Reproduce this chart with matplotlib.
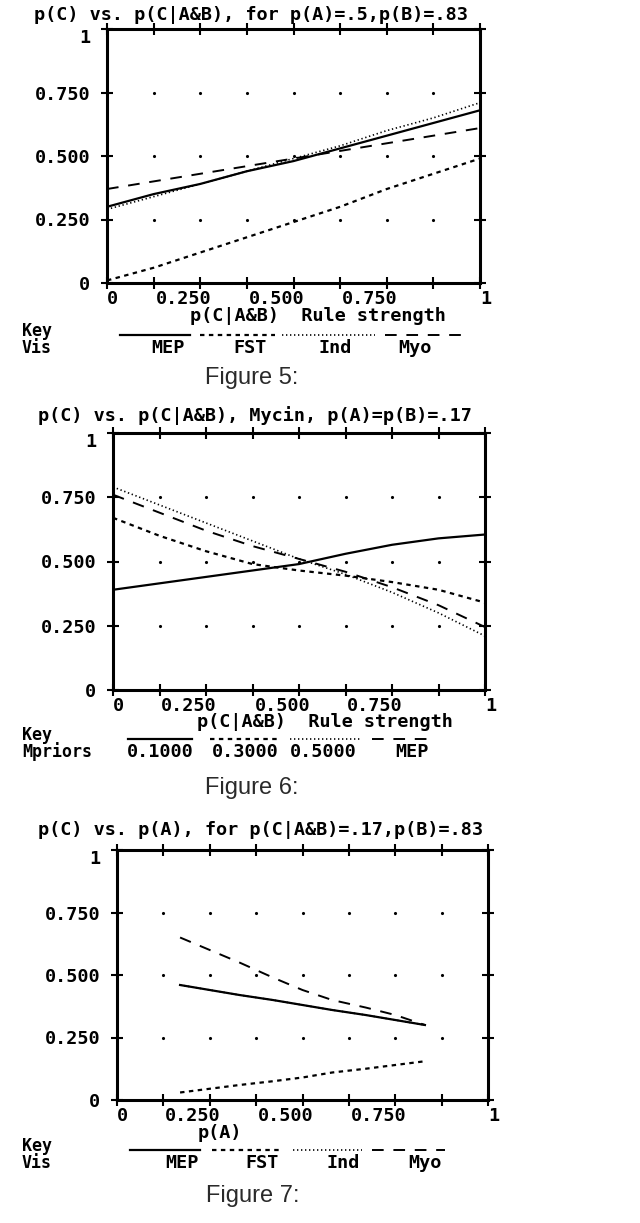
"""Three scanned-style line charts: p(C) against rule strength / p(A)."""
import matplotlib
matplotlib.use("Agg")
import matplotlib.pyplot as plt
import matplotlib.transforms as mtransforms
import numpy as np

##########################
## Data

# Figure 5: p(C) vs. p(C|A&B), p(A)=.5, p(B)=.83
f5_x = [0, 0.125, 0.25, 0.375, 0.5, 0.625, 0.75, 0.875, 1]
f5_mep = [0.30, 0.35, 0.39, 0.44, 0.48, 0.53, 0.58, 0.63, 0.68]
f5_fst = [0.01, 0.06, 0.12, 0.18, 0.24, 0.30, 0.37, 0.43, 0.49]
f5_ind = [0.29, 0.34, 0.39, 0.44, 0.49, 0.54, 0.60, 0.65, 0.71]
f5_myo = [0.37, 0.40, 0.43, 0.46, 0.49, 0.52, 0.55, 0.58, 0.61]

# Figure 6: Mycin, p(A)=p(B)=.17, for several priors
f6_x = [0, 0.125, 0.25, 0.375, 0.5, 0.625, 0.75, 0.875, 1]
f6_p10 = [0.39, 0.415, 0.44, 0.465, 0.49, 0.53, 0.565, 0.59, 0.605]
f6_p30 = [0.67, 0.60, 0.54, 0.49, 0.465, 0.445, 0.42, 0.39, 0.34]
f6_p50 = [0.79, 0.72, 0.65, 0.58, 0.51, 0.45, 0.38, 0.30, 0.21]
f6_mep = [0.76, 0.69, 0.62, 0.56, 0.51, 0.46, 0.40, 0.33, 0.245]

# Figure 7: p(C) vs. p(A), p(C|A&B)=.17, p(B)=.83
f7_x = [0.17, 0.25, 0.33, 0.42, 0.5, 0.58, 0.67, 0.75, 0.83]
f7_mep = [0.46, 0.44, 0.42, 0.40, 0.38, 0.36, 0.34, 0.32, 0.30]
f7_fst = [0.03, 0.045, 0.06, 0.075, 0.09, 0.11, 0.125, 0.14, 0.155]
f7_ind = [0.46, 0.44, 0.42, 0.40, 0.38, 0.36, 0.34, 0.32, 0.30]
f7_myo = [0.65, 0.60, 0.55, 0.49, 0.44, 0.40, 0.37, 0.34, 0.30]

x_ticks = np.arange(0, 1.0001, 0.125)
x_ticklabels = ["0", "", "0.250", "", "0.500", "", "0.750", "", "1"]
y_ticks = [0, 0.25, 0.5, 0.75, 1]
y_ticklabels = ["0", "0.250", "0.500", "0.750", "1"]

##########################
## Styles

W, H = 640, 1223
MONO = {"family": "DejaVu Sans Mono", "weight": "bold", "size": 13.3}
KEYFONT = {"family": "DejaVu Sans Mono", "weight": "bold", "size": 12}
CAPTION = {"family": ["Liberation Sans Narrow", "Liberation Sans", "DejaVu Sans"],
           "size": 17, "color": "#2a2a2a"}

solid = dict(ls="-", lw=1.6)
short_dash = dict(ls=(0, (2.0, 2.0)), lw=1.6)
fine_dot = dict(ls=(0, (0.8, 1.6)), lw=1.2)
long_dash = dict(ls=(0, (6, 5)), lw=1.4)

fig = plt.figure(figsize=(W / 100, H / 100), dpi=100)
fig.patch.set_facecolor("white")


def make_axes(x0, y0, x1, y1):
    ax = fig.add_axes([x0 / W, 1 - y1 / H, (x1 - x0) / W, (y1 - y0) / H])
    ax.set_xlim(0, 1)
    ax.set_ylim(0, 1)
    for sp in ax.spines.values():
        sp.set_linewidth(2.2)
    ax.set_xticks(x_ticks)
    ax.set_xticklabels(x_ticklabels, fontdict=MONO)
    ax.set_yticks(y_ticks)
    ax.set_yticklabels(y_ticklabels, fontdict=MONO)
    ax.tick_params(direction="inout", length=8, width=1.5, top=True, right=True,
                   labeltop=False, labelright=False)
    ax.tick_params(axis="x", pad=1)
    ax.tick_params(axis="y", pad=8)
    shift = mtransforms.ScaledTranslation(11 / 100, 0, fig.dpi_scale_trans)
    for lbl in ax.get_xticklabels():
        lbl.set_horizontalalignment("right")
        lbl.set_transform(lbl.get_transform() + shift)
    # the "1" on the y axis sits a little below the top edge
    top_lbl = ax.get_yticklabels()[-1]
    top_lbl.set_transform(top_lbl.get_transform()
                          + mtransforms.ScaledTranslation(0, -7 / 100, fig.dpi_scale_trans))
    # dotted grid: interior eighths x interior quarters
    gx, gy = np.meshgrid(x_ticks[1:-1], y_ticks[1:-1])
    ax.plot(gx.ravel(), gy.ravel(), "k.", ms=2.5, ls="none")
    return ax


# overlay in pixel coordinates for titles, keys and captions
ov = fig.add_axes([0, 0, 1, 1], zorder=5)
ov.set_xlim(0, W)
ov.set_ylim(H, 0)
ov.axis("off")
ov.patch.set_alpha(0)


def key(y, row_name, entries, styles, x_samples, x_labels):
    ov.text(22, y - 10, "Key", ha="left", va="center", **KEYFONT)
    ov.text(22, y + 7, row_name, ha="left", va="center", **KEYFONT)
    for (xa, xb), st in zip(x_samples, styles):
        ov.plot([xa, xb], [y - 6, y - 6], color="k", **st)
    for name, xc in zip(entries, x_labels):
        ov.text(xc, y + 7, name, ha="center", va="center", **MONO)


# ---------------- Figure 5
ax5 = make_axes(107, 29, 480, 283)
ax5.plot(f5_x, f5_mep, color="k", **solid)
ax5.plot(f5_x, f5_fst, color="k", **short_dash)
ax5.plot(f5_x, f5_ind, color="k", **fine_dot)
ax5.plot(f5_x, f5_myo, color="k", **long_dash)
ov.text(251, 15, "p(C) vs. p(C|A&B), for p(A)=.5,p(B)=.83", ha="center", va="center", **MONO)
ov.text(318, 316, "p(C|A&B)  Rule strength", ha="center", va="center", **MONO)
key(341, "Vis", ["MEP", "FST", "Ind", "Myo"], [solid, short_dash, fine_dot, long_dash],
    [(120, 190), (200, 275), (282, 375), (385, 462)], [168, 250, 335, 415])
ov.text(252, 378, "Figure 5:", ha="center", va="center", **CAPTION)

# ---------------- Figure 6
ax6 = make_axes(113, 433, 485, 690)
ax6.plot(f6_x, f6_p10, color="k", **solid)
ax6.plot(f6_x, f6_p30, color="k", **short_dash)
ax6.plot(f6_x, f6_p50, color="k", **fine_dot)
ax6.plot(f6_x, f6_mep, color="k", **long_dash)
ov.text(255, 416, "p(C) vs. p(C|A&B), Mycin, p(A)=p(B)=.17", ha="center", va="center", **MONO)
ov.text(325, 722, "p(C|A&B)  Rule strength", ha="center", va="center", **MONO)
key(745, "Mpriors", ["0.1000", "0.3000", "0.5000", "MEP"],
    [solid, short_dash, fine_dot, long_dash],
    [(128, 192), (210, 280), (290, 362), (372, 432)], [160, 245, 323, 412])
ov.text(252, 788, "Figure 6:", ha="center", va="center", **CAPTION)

# ---------------- Figure 7
ax7 = make_axes(117, 850, 488, 1100)
ax7.plot(f7_x, f7_mep, color="k", **solid)
ax7.plot(f7_x, f7_fst, color="k", **short_dash)
ax7.plot(f7_x, f7_ind, color="k", **fine_dot)
ax7.plot(f7_x, f7_myo, color="k", **long_dash)
ov.text(260, 830, "p(C) vs. p(A), for p(C|A&B)=.17,p(B)=.83", ha="center", va="center", **MONO)
ov.text(220, 1133, "p(A)", ha="center", va="center", **MONO)
key(1156, "Vis", ["MEP", "FST", "Ind", "Myo"], [solid, short_dash, fine_dot, long_dash],
    [(130, 200), (212, 283), (293, 362), (372, 445)], [182, 262, 343, 425])
ov.text(253, 1196, "Figure 7:", ha="center", va="center", **CAPTION)

fig.savefig("out.png", dpi=100)
